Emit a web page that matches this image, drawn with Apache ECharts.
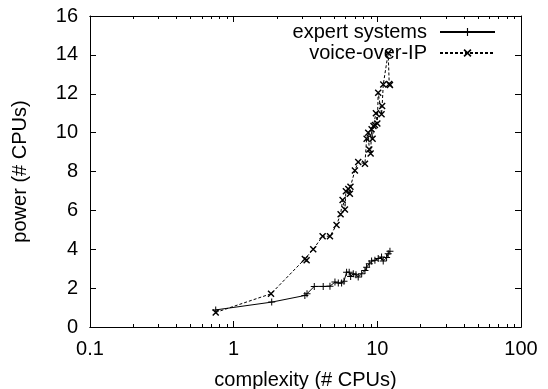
<!DOCTYPE html>
<html><head><meta charset="utf-8">
<script src="https://cdn.jsdelivr.net/npm/echarts@6/dist/echarts.min.js"></script>
<style>html,body{margin:0;padding:0;background:#fff}#c{width:548px;height:389px}</style>
</head><body><div id="c"></div>
<script>
const seriesNames = ['expert systems', 'voice-over-IP'];
const expertX = [0.75, 1.84, 3.13, 3.24, 3.64, 4.2, 4.68, 5.07, 5.35, 5.64, 5.86, 6.11, 6.37, 6.52, 6.8, 7.1, 7.36, 7.78, 8.2, 8.42, 8.79, 9.12, 9.62, 10.14, 10.7, 10.99, 11.6, 11.9, 12.24];
const expertY = [0.88, 1.28, 1.62, 1.71, 2.09, 2.09, 2.1, 2.31, 2.26, 2.26, 2.36, 2.82, 2.82, 2.6, 2.74, 2.69, 2.57, 2.74, 2.91, 3.08, 3.26, 3.39, 3.43, 3.52, 3.6, 3.39, 3.57, 3.77, 3.9];
const voiceX = [0.75, 1.82, 3.13, 3.22, 3.58, 4.16, 4.68, 5.2, 5.55, 5.73, 5.95, 6.04, 6.28, 6.44, 6.5, 6.98, 7.36, 8.2, 8.42, 8.64, 8.79, 8.98, 9.12, 9.27, 9.4, 9.62, 9.77, 10.0, 10.14, 10.7, 10.8, 11.0, 11.9, 12.1, 12.24];
const voiceY = [0.75, 1.71, 3.5, 3.43, 4.0, 4.67, 4.67, 5.25, 5.8, 6.54, 6.05, 6.98, 7.1, 6.85, 7.22, 8.05, 8.49, 8.4, 9.68, 10.0, 9.13, 8.93, 10.18, 9.68, 10.34, 10.39, 11.0, 10.47, 12.05, 10.95, 11.37, 12.48, 14.1, 12.5, 12.45];
const xMajorTicks = [0.1, 1, 10, 100];
const xMinorTicks = [0.2, 0.3, 0.4, 0.5, 0.6, 0.7, 0.8, 0.9, 2, 3, 4, 5, 6, 7, 8, 9, 20, 30, 40, 50, 60, 70, 80, 90];
const yTicks = [0, 2, 4, 6, 8, 10, 12, 14, 16];

const FONT = 'Liberation Sans, Arial, Helvetica, sans-serif';
const PLUS = 'path://M3,0H4V7H3Z M0,3H7V4H0Z';
const CROSS = 'path://M0,1L1,0L7,6L6,7Z M6,0L7,1L1,7L0,6Z';

function zip(xs, ys) { return xs.map((x, i) => [x, ys[i]]); }

const logX = (extra) => Object.assign({
  type: 'log', logBase: 10, min: 0.1, max: 100,
  axisLine: { show: true, lineStyle: { color: '#000', width: 1 } },
  splitLine: { show: false },
  axisLabel: { show: false },
  axisTick: { show: true, inside: true, length: 6, lineStyle: { color: '#000' }, customValues: xMajorTicks }
}, extra);

const chart = echarts.init(document.getElementById('c'), null, { renderer: 'canvas' });
chart.setOption({
  animation: false,
  backgroundColor: '#fff',
  textStyle: { fontFamily: FONT },
  grid: { left: 90, right: 27, top: 16, bottom: 62, containLabel: false, outerBoundsMode: 'none' },
  legend: {
    orient: 'vertical', align: 'right', right: 52, top: 22, padding: 0,
    itemWidth: 55, itemHeight: 10, itemGap: 1,
    textStyle: { fontSize: 20, color: '#000', fontFamily: FONT, padding: [0, 8, 0, 0] },
    data: seriesNames
  },
  xAxis: [
    logX({
      position: 'bottom',
      name: 'complexity (# CPUs)', nameLocation: 'middle', nameGap: 43,
      nameTextStyle: { fontSize: 20, color: '#000', fontFamily: FONT },
      axisLabel: { show: true, fontSize: 20, color: '#000', fontFamily: FONT, margin: 12, customValues: xMajorTicks,
        formatter: v => String(v) }
    }),
    logX({ position: 'bottom', axisTick: { show: true, inside: true, length: 3, lineStyle: { color: '#000' }, customValues: xMinorTicks } }),
    logX({ position: 'top' }),
    logX({ position: 'top', axisTick: { show: true, inside: true, length: 3, lineStyle: { color: '#000' }, customValues: xMinorTicks } })
  ],
  yAxis: [
    {
      type: 'value', min: 0, max: 16, interval: 2, position: 'left',
      name: 'power (# CPUs)', nameLocation: 'middle', nameGap: 60,
      nameTextStyle: { fontSize: 20, color: '#000', fontFamily: FONT },
      axisLine: { show: true, lineStyle: { color: '#000', width: 1 } },
      splitLine: { show: false },
      axisTick: { show: true, inside: true, length: 6, lineStyle: { color: '#000' }, customValues: yTicks },
      axisLabel: { fontSize: 20, color: '#000', fontFamily: FONT, margin: 12, customValues: yTicks }
    },
    {
      type: 'value', min: 0, max: 16, interval: 2, position: 'right',
      axisLine: { show: true, lineStyle: { color: '#000', width: 1 } },
      splitLine: { show: false },
      axisTick: { show: true, inside: true, length: 6, lineStyle: { color: '#000' }, customValues: yTicks },
      axisLabel: { show: false }
    }
  ],
  series: [
    {
      name: seriesNames[0], type: 'line', xAxisIndex: 0, yAxisIndex: 0,
      data: zip(expertX, expertY),
      symbol: PLUS, symbolSize: 7, showSymbol: true, symbolKeepAspect: true,
      itemStyle: { color: '#000' },
      lineStyle: { color: '#000', width: 1, type: 'solid' },
      emphasis: { disabled: true }
    },
    {
      name: seriesNames[1], type: 'line', xAxisIndex: 0, yAxisIndex: 0,
      data: zip(voiceX, voiceY),
      symbol: CROSS, symbolSize: 7, showSymbol: true, symbolKeepAspect: true,
      itemStyle: { color: '#000' },
      lineStyle: { color: '#000', width: 1, type: [3, 2] },
      emphasis: { disabled: true }
    }
  ]
});
</script>
</body></html>
